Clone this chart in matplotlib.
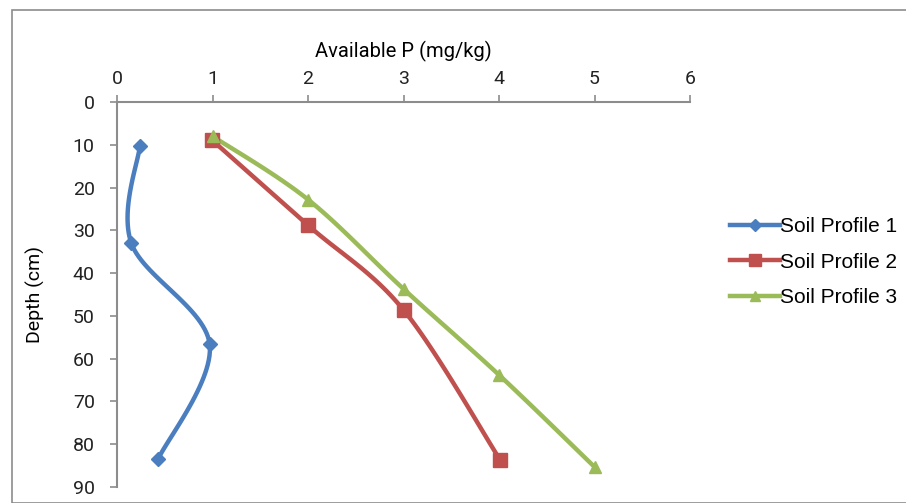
import numpy as np
import matplotlib
matplotlib.use("Agg")
import matplotlib.pyplot as plt
from matplotlib.lines import Line2D
from matplotlib.patches import Rectangle

# ---------------------------------------------------------------------------
# data
p1_x = [0.24, 0.15, 0.97, 0.43]
p1_depth = [10.2, 33.0, 56.6, 83.5]

p2_x = [0.99, 2.0, 3.0, 4.01]
p2_depth = [8.8, 28.8, 48.6, 83.6]

p3_x = [1.0, 2.0, 3.0, 4.0, 5.0]
p3_depth = [8.0, 22.8, 43.7, 63.8, 85.3]

labels = ["Soil Profile 1", "Soil Profile 2", "Soil Profile 3"]
x_ticks = [0, 1, 2, 3, 4, 5, 6]
y_ticks = [0, 10, 20, 30, 40, 50, 60, 70, 80, 90]

COLORS = ["#4A7EBF", "#C0504D", "#9BBB59"]
MARKERS = ["D", "s", "^"]
MSIZES = [7, 9.5, 9]


def smooth(xs, ys, sx=6.0, sy=90.0, n=30):
    """Excel-like smoothed line (Catmull-Rom through the points)."""
    pts = np.column_stack([np.asarray(xs) / sx, np.asarray(ys) / sy])
    P = np.vstack([pts[0], pts, pts[-1]])
    out = []
    for i in range(1, len(P) - 2):
        p0, p1, p2, p3 = P[i - 1], P[i], P[i + 1], P[i + 2]
        c1 = p1 + (p2 - p0) / 6.0
        c2 = p2 - (p3 - p1) / 6.0
        t = np.linspace(0, 1, n)[:, None]
        seg = ((1 - t) ** 3) * p1 + 3 * ((1 - t) ** 2) * t * c1 \
            + 3 * (1 - t) * t ** 2 * c2 + t ** 3 * p2
        out.append(seg)
    out = np.vstack(out)
    return out[:, 0] * sx, out[:, 1] * sy


plt.rcParams["font.family"] = ["Roboto", "DejaVu Sans"]

fig = plt.figure(figsize=(9.06, 5.03), dpi=100)
fig.patches.append(Rectangle((12 / 906, 0), 1, 1 - 10 / 503, transform=fig.transFigure,
                             fill=False, edgecolor="#8c8c8c", lw=1.2))

ax = fig.add_axes([117 / 906, 1 - 487 / 503, (690 - 117) / 906, (487 - 102) / 503])

series = [(p1_x, p1_depth), (p2_x, p2_depth), (p3_x, p3_depth)]
for (xs, ys), c, m, ms in zip(series, COLORS, MARKERS, MSIZES):
    sxv, syv = smooth(xs, ys)
    ax.plot(sxv, syv, color=c, lw=3.2, solid_capstyle="round", zorder=2)
    ax.plot(xs, ys, ls="none", marker=m, ms=ms, color=c, zorder=3)

ax.set_xlim(0, 6)
ax.set_ylim(90, 0)
ax.set_xticks(x_ticks)
ax.set_yticks(y_ticks)
ax.xaxis.tick_top()
ax.xaxis.set_label_position("top")
ax.set_xlabel("Available P (mg/kg)", fontsize=14.5, labelpad=9)
ax.set_ylabel("Depth (cm)", fontsize=14)
ax.yaxis.set_label_coords(-0.126, 0.5)

for s in ["right", "bottom"]:
    ax.spines[s].set_visible(False)
for s in ["left", "top"]:
    ax.spines[s].set_color("#8c8c8c")
    ax.spines[s].set_linewidth(1.5)
ax.tick_params(axis="both", colors="#8c8c8c", labelcolor="#222222",
               labelsize=14, length=5, width=1.2)
ax.tick_params(axis="x", pad=5)
ax.tick_params(axis="y", pad=11)

handles = [Line2D([], [], color=c, lw=3.2, marker=m, ms=ms * 0.85)
           for c, m, ms in zip(COLORS, MARKERS, MSIZES)]
fig.legend(handles, labels, loc="center left", bbox_to_anchor=(711 / 906, 1 - 262 / 503),
           frameon=False, handlelength=2.4, handletextpad=0.0, labelspacing=0.8,
           prop={"family": ["Liberation Sans", "DejaVu Sans"], "size": 15})

fig.savefig("out.png", dpi=100)
